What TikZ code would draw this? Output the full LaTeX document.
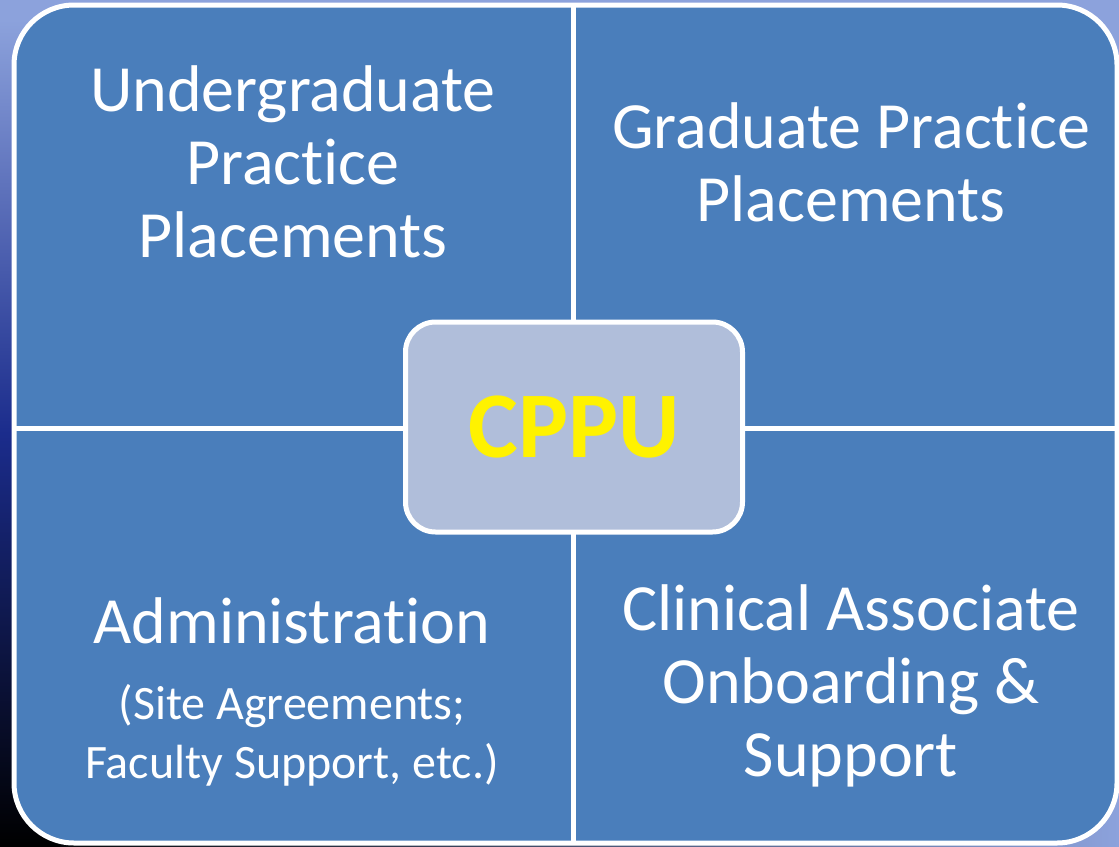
\documentclass[tikz,border=0pt]{standalone}
\usepackage{fontspec}
\setmainfont{Carlito}
\usepackage{tikz}
\usetikzlibrary{calc}
\definecolor{quadblue}{HTML}{4A7EBB}
\definecolor{hubfill}{HTML}{B0BEDA}
\definecolor{skyblue}{HTML}{8CA2DC}
\definecolor{navyglow}{HTML}{1B2C8C}
% plain t before i, no ligature
\newcommand{\tnolig}{t\kern0pt}

\begin{document}
\begin{tikzpicture}[x=1pt,y=-1pt,
every node/.style={text=white,align=center},
quadtext/.style={font=\fontsize{66}{73}\selectfont},
subtext/.style={font=\fontsize{48}{59}\selectfont},
divider/.style={white,line width=5pt}
]
\useasboundingbox (0,0) rectangle (1119,846);
\fill[skyblue] (0,0) rectangle (1119,846);
\shade[left color=black,right color=skyblue] (0,800) rectangle (1119,846);
\shade[top color=skyblue,bottom color=black,middle color=navyglow] (0,20) rectangle (60,846);
\filldraw[fill=quadblue,draw=white,line width=5pt,rounded corners=60pt] (14,5) rectangle (1117,843);

\coordinate (top) at (573,5);
\coordinate (bottom) at (573,843);
\coordinate (left) at (14,428);
\coordinate (right) at (1117,428);
\draw[divider] (top) -- (bottom);
\draw[divider] (left) -- (right);

\node[quadtext] (under) at (293,162) {Undergraduate\\Prac\tnolig ice\\Placements};
\node[quadtext] (grad) at (851,162) {Graduate Prac\tnolig ice\\Placements};
\node[quadtext] (admin) at (292,621) {Administra\tnolig ion};
\node[subtext] (site) at (292,735) {(Site Agreements;\\Faculty Support, etc.)};
\node[quadtext] (clinical) at (851,686) {Clinical Associate\\Onboarding \&\\Support};

\node[draw=white,line width=5pt,fill=hubfill,rounded corners=30pt,minimum width=337pt,minimum height=210pt,text=yellow,font=\bfseries\fontsize{94}{100}\selectfont] (cppu) at (574,427) {CPPU};
\end{tikzpicture}
\end{document}
